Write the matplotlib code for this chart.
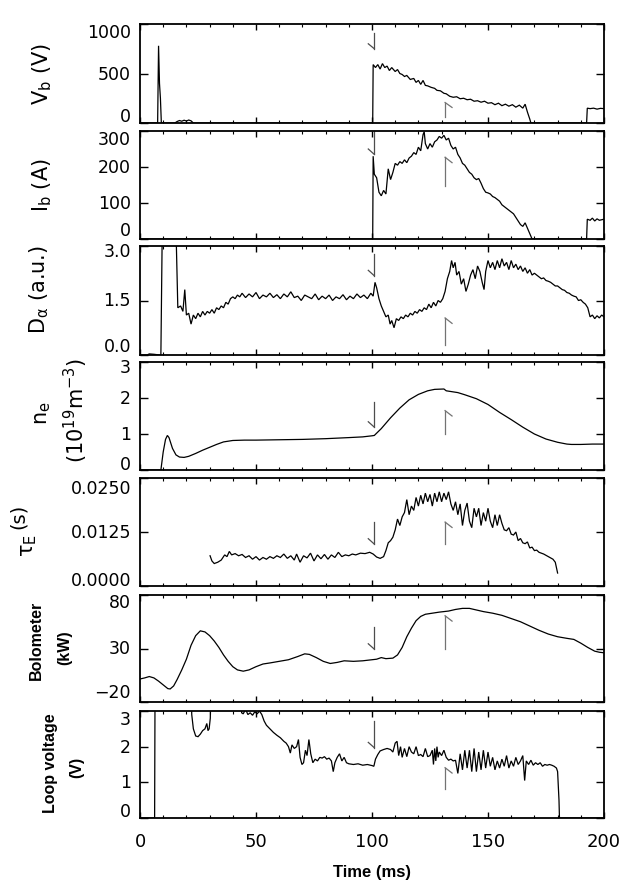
import numpy as np
import matplotlib
matplotlib.use("Agg")
import matplotlib.pyplot as plt
from matplotlib.transforms import ScaledTranslation
from matplotlib.ticker import MultipleLocator

plt.rcParams['font.family'] = ['DejaVu Sans']
plt.rcParams['mathtext.default'] = 'regular'

# ---------------- data ----------------
vb_t = [0, 7.6, 8.0, 8.4, 8.8, 9.2, 15, 16, 17, 18, 19, 20, 21, 22, 23, 100.3, 100.5, 101.5, 102.5, 103.5,
        104.5, 105.5, 106.5, 107.5, 108.5, 110, 111, 112, 113, 114, 115, 116.5, 118, 119, 120, 121, 122,
        123, 124, 125.5, 127, 128, 129.5, 131, 132, 133.5, 135, 136.5, 138, 139.5, 141, 142.5, 144, 145.5,
        147, 148.5, 150, 151.5, 153, 154.5, 156, 157.5, 159, 160.5, 162, 163.5, 165, 166, 167, 168, 168.5,
        192.5, 192.8, 194, 195.5, 197, 198.5, 200]
vb_v = [0, 0, 780, 400, 250, 0, 0, 15, 25, 18, 28, 20, 30, 22, 0, 0, 590, 560, 590, 545,
        600, 560, 575, 530, 560, 520, 540, 500, 490, 470, 480, 440, 450, 410, 430, 390, 430,
        380, 375, 360, 350, 330, 325, 300, 295, 270, 260, 265, 245, 250, 235, 240, 220, 225,
        210, 220, 200, 205, 185, 200, 175, 190, 170, 185, 160, 180, 150, 190, 110, 40, 0,
        0, 150, 145, 150, 140, 148, 145]

ib_t = [0, 100.3, 100.5, 101, 102, 103, 104, 105, 106, 107, 108, 109, 110, 111, 112, 113, 114, 115, 116,
        117, 118, 119, 120, 121, 122, 122.5, 123, 124, 125, 126, 127, 128, 129, 130, 131, 132, 133, 134,
        135, 136, 137, 138, 139, 140, 141, 142, 143, 144, 145, 146, 147, 148, 149, 150, 151, 152, 153,
        154, 155, 156, 157, 158, 159, 160, 161, 162, 163, 164, 165, 166, 167, 168, 169,
        192.5, 192.8, 194, 195, 196, 197, 198, 200]
ib_v = [0, 0, 230, 180, 170, 130, 120, 135, 125, 195, 165, 185, 210, 205, 215, 210, 220, 212, 225,
        230, 240, 235, 255, 245, 290, 298, 265, 250, 265, 255, 270, 275, 285, 280, 288, 275, 280, 260,
        250, 255, 235, 225, 210, 205, 195, 185, 180, 170, 165, 168, 155, 140, 130, 128, 125, 118, 115,
        110, 105, 95, 90, 85, 80, 75, 70, 60, 50, 40, 35, 45, 30, 15, 0,
        0, 55, 52, 58, 50, 56, 52, 55]

da_t = [0, 3, 4, 6, 8.5, 9.0, 9.6, 15.5, 16.3, 17.5, 18.5, 19.3, 20, 21, 22, 23, 24, 25, 26, 27, 28, 29,
        30, 31, 32, 33, 34, 35, 36, 37, 38, 39, 40, 41, 42, 43, 44, 45.5, 47, 48.5, 50, 51.5, 53, 54.5,
        56, 57.5, 59, 60.5, 62, 63.5, 65, 66.5, 68, 69.5, 71, 72.5, 74, 75.5, 77, 78.5, 80, 81.5, 83,
        84.5, 86, 87.5, 89, 90.5, 92, 93.5, 95, 96.5, 98, 99.5, 100.5, 101.3, 102, 103, 104, 105, 106,
        107, 107.8, 108.5, 109.5, 110.5, 111.5, 112.5, 113.5, 114.5, 115.5, 116.5, 117.5, 118.5, 119.5,
        120.5, 121.5, 122.5, 123.5, 124.5, 125.5, 126.5, 127.5, 128.5, 129.5, 130.5, 131.5, 132.5,
        133.5, 134.3, 135, 135.8, 136.5, 137.5, 138.5, 139.5, 140.5, 141.5, 142.5, 143.5, 144.5, 145.5,
        146.5, 147.5, 148.3, 149, 150, 151, 152, 153, 154, 155, 156, 157, 158, 159, 160, 161, 162, 163,
        164, 165, 166, 167, 168, 169, 170, 171, 172, 173, 174, 175, 176, 177, 178, 179, 180, 181, 182,
        183, 184, 185, 186, 187, 188, 189, 190, 191, 192, 193, 194, 195, 196, 197, 198, 199, 200]
da_v = [0, 0, 0.03, 0.02, 0, 0, 3.5, 3.5, 1.3, 1.35, 1.2, 1.8, 1.1, 1.15, 0.85, 1.1, 1.0, 1.15, 1.05, 1.2,
        1.1, 1.2, 1.15, 1.25, 1.15, 1.3, 1.25, 1.35, 1.3, 1.45, 1.4, 1.55, 1.6, 1.55, 1.65, 1.6, 1.7,
        1.58, 1.68, 1.6, 1.72, 1.55, 1.65, 1.6, 1.7, 1.58, 1.66, 1.55, 1.68, 1.6, 1.74, 1.58, 1.62, 1.5,
        1.65, 1.6, 1.55, 1.68, 1.52, 1.62, 1.55, 1.65, 1.5, 1.6, 1.55, 1.66, 1.52, 1.62, 1.55, 1.68,
        1.58, 1.65, 1.55, 1.7, 1.62, 2.0, 1.85, 1.55, 1.35, 1.2, 1.05, 1.1, 0.85, 0.95, 0.75, 1.0, 0.95,
        1.05, 1.0, 1.1, 1.05, 1.15, 1.1, 1.2, 1.15, 1.25, 1.2, 1.3, 1.25, 1.4, 1.3, 1.45, 1.35, 1.5,
        1.45, 1.55, 1.75, 2.1, 2.3, 2.6, 2.4, 2.55, 2.2, 2.3, 1.95, 2.1, 1.75, 1.95, 2.2, 2.35, 2.1,
        2.45, 2.3, 2.0, 1.8, 2.3, 2.6, 2.4, 2.55, 2.35, 2.6, 2.4, 2.65, 2.45, 2.55, 2.35, 2.6, 2.4,
        2.5, 2.35, 2.45, 2.3, 2.4, 2.25, 2.35, 2.2, 2.25, 2.2, 2.15, 2.1, 2.12, 2.05, 2.03, 2.0, 1.95,
        1.9, 1.9, 1.85, 1.8, 1.78, 1.72, 1.7, 1.65, 1.62, 1.6, 1.5, 1.52, 1.45, 1.4, 1.3, 1.05, 1.1,
        1.0, 1.08, 1.02, 1.1, 1.05]

ne_t = [0, 9, 10, 11, 11.8, 12.5, 14, 15.5, 17, 19, 21, 24, 27, 30, 33, 36, 40, 45, 50, 60, 70, 80, 90,
        96, 100, 101, 104, 108, 112, 116, 120, 124, 127, 131, 132, 134, 137, 140, 145, 150, 155, 160,
        165, 170, 175, 180, 184, 186, 190, 195, 200]
ne_v = [0, 0, 0.5, 0.85, 0.96, 0.9, 0.6, 0.42, 0.36, 0.35, 0.38, 0.46, 0.55, 0.63, 0.71, 0.78, 0.82,
        0.83, 0.83, 0.84, 0.85, 0.87, 0.9, 0.92, 0.95, 0.96, 1.15, 1.45, 1.72, 1.95, 2.1, 2.2, 2.24,
        2.25, 2.2, 2.18, 2.15, 2.09, 1.98, 1.82, 1.6, 1.4, 1.19, 1.0, 0.86, 0.77, 0.72, 0.71, 0.71,
        0.72, 0.72]

te_t = [30.2, 31, 32, 33.5, 35, 36.5, 37.5, 38.5, 39.5, 41, 42.5, 44, 45.5, 47, 48.5, 50, 51.5, 53, 54.5,
        56, 57.5, 59, 60.5, 62, 63.5, 65, 66.5, 67.5, 69, 70.5, 72, 73.5, 75, 76.5, 78, 79.5, 81, 82.5,
        84, 85.5, 87, 88.5, 90, 91.5, 93, 95, 97, 99, 100.5, 102, 103.5, 105, 106, 107, 108, 109, 110,
        111, 112, 113, 114, 115, 116, 117, 118, 119, 120, 121, 122, 123, 124, 125, 126, 127, 128, 129,
        130, 131, 132, 133, 134, 135, 136, 137, 138, 139, 140, 141, 142, 143, 144, 145, 146, 147, 148,
        149, 150, 151, 152, 153, 154, 155, 156, 157, 158, 159, 160, 161, 162, 163, 164, 165, 166, 167,
        168, 169, 170, 171, 172, 174, 176, 178, 179, 180]
te_v = [0.0070, 0.0058, 0.0052, 0.0055, 0.0060, 0.0072, 0.0068, 0.0080, 0.0072, 0.0075, 0.0070, 0.0073,
        0.0066, 0.0070, 0.0062, 0.0068, 0.0060, 0.0066, 0.0062, 0.0068, 0.0064, 0.0070, 0.0066, 0.0074,
        0.0064, 0.0070, 0.0060, 0.0074, 0.0055, 0.0070, 0.0065, 0.0076, 0.0058, 0.0072, 0.0063, 0.0073,
        0.0062, 0.0072, 0.0066, 0.0078, 0.0068, 0.0072, 0.0070, 0.0074, 0.0072, 0.0076, 0.0075, 0.0078,
        0.0074, 0.0067, 0.0064, 0.0068, 0.0082, 0.0100, 0.0105, 0.0113, 0.0130, 0.0155, 0.0140, 0.0160,
        0.0170, 0.0200, 0.0165, 0.0185, 0.0175, 0.0205, 0.0185, 0.0210, 0.0190, 0.0215, 0.0195, 0.0212,
        0.0185, 0.0215, 0.0195, 0.0218, 0.0195, 0.0215, 0.0200, 0.0218, 0.0190, 0.0175, 0.0195, 0.0165,
        0.0190, 0.0140, 0.0175, 0.0192, 0.0150, 0.0135, 0.0180, 0.0160, 0.0180, 0.0140, 0.0170, 0.0150,
        0.0180, 0.0150, 0.0135, 0.0165, 0.0140, 0.0165, 0.0145, 0.0130, 0.0128, 0.0135, 0.0120, 0.0118,
        0.0125, 0.0105, 0.0110, 0.0100, 0.0098, 0.0102, 0.0088, 0.0090, 0.0082, 0.0083, 0.0078, 0.0074,
        0.0068, 0.0062, 0.0055, 0.0030]

bo_t = [0, 2, 4, 6, 8, 10, 12, 13, 14.5, 16, 18, 20, 22, 24, 26, 28, 30, 32, 34, 36, 38, 40, 42, 44.5, 47,
        50, 53, 56, 60, 64, 68, 71, 73, 76, 79, 82, 85, 88, 92, 96, 100, 102, 104, 106, 109, 111, 113,
        115, 117, 119, 121, 123, 126, 129, 131, 133, 136, 139, 142, 145, 148, 152, 156, 160, 164, 168,
        172, 176, 180, 184, 187, 190, 193, 196, 198, 200]
bo_v = [1.5, 2.5, 3.8, 2.5, -0.5, -4, -7.5, -7.8, -5, 1, 10, 20, 33, 42, 46.5, 45.5, 42, 37, 31, 24, 18,
        13, 10, 8.8, 10, 13, 15.5, 16.5, 18, 19.5, 22.5, 25, 24.5, 21.5, 18, 16, 17, 18.5, 18, 18.5,
        19.5, 20, 21.5, 20.5, 21, 24, 31, 41, 49, 56, 60, 62, 63, 64, 64.5, 65, 66.5, 67.5, 67.5, 66,
        64.5, 63, 61, 58, 55, 51, 47, 43.5, 41, 39.5, 38.5, 35, 31, 27.5, 26.5, 26]

lv_t = [0, 6.3, 6.5, 22, 22.3, 23, 24, 25, 26, 27, 28, 28.8, 29.3, 29.8, 30.3, 30.6, 43.5, 43.8, 44.5,
        45.5, 46.5, 47.5, 48.5, 49.5, 50.5, 51.5, 52.5, 53.5, 54.5, 56, 57.5, 59, 60.5, 62, 63, 64,
        64.8, 65.5, 66.5, 67.5, 68.3, 69, 69.8, 70.5, 71.3, 72, 72.8, 73.6, 74.5, 75.5, 76.5, 77.5,
        78.5, 79.5, 80.5, 81.5, 82.5, 83.3, 84, 85, 86, 87, 88, 89, 90, 92, 94, 96, 98, 100, 100.8,
        101.5, 102.5, 103.5, 105, 106.5, 108, 109, 110, 110.8, 111.5, 112.3, 113, 114, 115, 116, 117,
        118, 119, 120, 121, 122, 123, 124, 125, 126, 126.5, 127, 127.5, 128, 128.5, 129, 130, 131, 132,
        133, 134, 135, 136, 137, 138, 139, 140, 141, 142, 143, 144, 145, 146, 147, 148, 149, 150, 151,
        152, 153, 154, 155, 156, 157, 158, 159, 160, 161, 162, 163, 164, 165, 165.8, 166.5, 167.5,
        168.5, 169.5, 170.5, 171.5, 172.5, 173.5, 174.5, 175.5, 176.5, 177.5, 178.5, 179.5, 180,
        180.6, 180.8, 200]
lv_v = [0, 0, 4, 4, 2.9, 2.5, 2.3, 2.28, 2.35, 2.45, 2.5, 2.65, 2.45, 2.5, 2.8, 4, 4, 2.95, 2.92,
        3.05, 2.9, 2.95, 2.88, 2.98, 2.92, 3.0, 2.9, 2.72, 2.6, 2.5, 2.4, 2.32, 2.25, 2.15, 2.1, 2.0,
        1.82, 2.05, 1.95, 2.0, 2.2, 1.7, 1.5, 1.55, 1.9, 1.75, 2.2, 1.8, 1.55, 1.65, 1.6, 1.7,
        1.68, 1.72, 1.65, 1.68, 1.6, 1.3, 1.55, 1.7, 1.8, 1.6, 1.7, 1.55, 1.52, 1.5, 1.52, 1.48, 1.5,
        1.47, 1.45, 1.65, 1.78, 1.88, 1.92, 1.95, 1.92, 1.85, 2.1, 2.15, 1.75, 2.0, 1.7, 1.95, 1.72,
        2.0, 1.85, 1.8, 2.0, 1.75, 1.78, 1.72, 1.95, 1.72, 1.75, 1.9, 1.5, 1.95, 1.6, 2.0, 1.7, 1.85,
        1.75, 1.9, 1.7, 1.62, 1.65, 1.6, 1.62, 1.25, 1.8, 1.35, 1.9, 1.4, 1.9, 1.3, 1.95, 1.3, 1.85,
        1.35, 1.9, 1.4, 1.85, 1.45, 1.7, 1.35, 1.6, 1.4, 1.65, 1.45, 1.75, 1.4, 1.6, 1.45, 1.7, 1.5,
        1.6, 1.75, 1.05, 1.6, 1.5, 1.62, 1.48, 1.55, 1.5, 1.55, 1.45, 1.5, 1.48, 1.5, 1.48, 1.45,
        1.4, 1.3, 0.5, 0, 0]

# time markers drawn in each panel: (time, top value, bottom value)
mark_a_t = 101.0
mark_a = [(910, 750), (300, 235), (2.79, 2.18), (1.89, 1.19), (0.0148, 0.0097), (49.7, 29.4), (2.72, 1.97)]
mark_b_t = 131.5
mark_b = [(207, 57), (227, 148), (1.02, 0.28), (1.65, 1.0), (0.0148, 0.0097), (60.6, 29.4), (1.41, 0.8)]

ylims = [(0, 1000), (0, 300), (0, 3), (0, 3), (0, 0.025), (-20, 80), (0, 3)]
yticks = [[0, 500, 1000], [0, 100, 200, 300], [0, 1.5, 3.0], [0, 1, 2, 3],
          [0, 0.0125, 0.025], [-20, 30, 80], [0, 1, 2, 3]]
yticklabels = [["0", "500", "1000"], ["0", "100", "200", "300"], ["0.0", "1.5", "3.0"],
               ["0", "1", "2", "3"], ["0.0000", "0.0125", "0.0250"], ["\u221220", "30", "80"],
               ["0", "1", "2", "3"]]
xticks = [0, 50, 100, 150, 200]
xticklabels = ["0", "50", "100", "150", "200"]

series_t = [vb_t, ib_t, da_t, ne_t, te_t, bo_t, lv_t]
series_v = [vb_v, ib_v, da_v, ne_v, te_v, bo_v, lv_v]

# ---------------- layout ----------------
W, H = 632, 895
fig = plt.figure(figsize=(W / 100, H / 100), dpi=100)
panels = [(25, 124), (132, 240), (247, 356), (363, 471), (479, 587), (596, 703), (712, 819)]
L, R = 140, 604
# vertical shift (px, positive = down) for top and bottom tick labels
lab_shift = [(8, -7), (8, -9), (5, -9), (5, -6), (10, -6), (7, -10), (8, -7)]

axes = []
for i, (top, bot) in enumerate(panels):
    ax = fig.add_axes([L / W, 1 - bot / H, (R - L) / W, (bot - top) / H])
    axes.append(ax)
    ax.plot(series_t[i], series_v[i], color='k', lw=0.9, solid_joinstyle='miter')
    lo, hi = ylims[i]
    yr = hi - lo
    ax.set_xlim(0, 200)
    ax.set_ylim(lo, hi)
    # markers
    a_top, a_bot = mark_a[i]
    ax.plot([mark_a_t, mark_a_t], [a_top, a_bot], color='0.3', lw=0.9)
    ax.plot([mark_a_t - 2.6, mark_a_t], [a_bot + 0.05 * yr, a_bot], color='0.3', lw=0.9)
    b_top, b_bot = mark_b[i]
    ax.plot([mark_b_t, mark_b_t], [b_top, b_bot], color='0.45', lw=0.9)
    ax.plot([mark_b_t, mark_b_t + 3.0], [b_top, b_top - 0.05 * yr], color='0.45', lw=0.9)

    for sp in ax.spines.values():
        sp.set_linewidth(1.3)
    ax.set_yticks(yticks[i])
    ax.set_yticklabels([])
    ax.tick_params(axis='y', direction='in', left=True, right=True, length=6, width=1)
    ax.set_xticks(xticks)
    ax.xaxis.set_minor_locator(MultipleLocator(10))
    ax.tick_params(axis='x', which='major', direction='in', top=True, bottom=True, length=4, width=1)
    ax.tick_params(axis='x', which='minor', direction='in', top=True, bottom=True, length=2, width=0.8)
    if i < len(panels) - 1:
        ax.set_xticklabels([])
    else:
        ax.set_xticklabels(xticklabels, fontsize=13)
        ax.tick_params(axis='x', which='major', pad=10)
    # y tick labels as text with IDL-like shifts
    n = len(yticks[i])
    for k, (v, s) in enumerate(zip(yticks[i], yticklabels[i])):
        dy = 0
        if k == n - 1:
            dy = lab_shift[i][0]
        elif k == 0:
            dy = lab_shift[i][1]
        tr = ax.get_yaxis_transform() + ScaledTranslation(-9 / 100, -dy / 100, fig.dpi_scale_trans)
        ax.text(0, v, s, transform=tr, ha='right', va='center', fontsize=12.5, clip_on=False)


def ftext(x, y, s, **kw):
    fig.text(x / W, 1 - y / H, s, ha='center', va='center', rotation=90, **kw)


ftext(42, 74, r"$V_b$ (V)", fontsize=15)
ftext(42, 185, r"$I_b$ (A)", fontsize=15)
ftext(39, 290, r"$D_\alpha$ (a.u.)", fontsize=15)
ftext(43, 413, r"$n_e$", fontsize=15)
ftext(76, 410, r"$(10^{19}m^{-3})$", fontsize=15)
ftext(29, 546, r"$\tau_E$", fontsize=15)
ftext(18, 516, "(s)", fontsize=14)
ftext(36, 640, "Bolometer", fontsize=11.5, family=['Liberation Sans'], fontweight='bold')
ftext(65, 648, "(kW)", fontsize=11.5, family=['Liberation Sans'], fontweight='bold')
ftext(51, 763, "Loop voltage", fontsize=11.5, family=['Liberation Sans'], fontweight='bold')
ftext(77, 767, "(V)", fontsize=11.5, family=['Liberation Sans'], fontweight='bold')
fig.text(((L + R) / 2) / W, 1 - 873 / H, "Time (ms)", ha='center', va='center', fontsize=12,
         family=['Liberation Sans'], fontweight='bold')

fig.savefig("out.png", dpi=100)
